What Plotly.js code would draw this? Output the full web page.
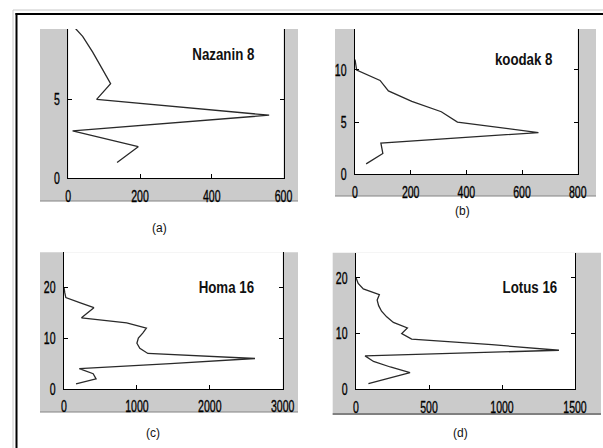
<!DOCTYPE html>
<html>
<head>
<meta charset="utf-8">
<script src="https://cdn.plot.ly/plotly-3.0.1.min.js"></script>
<style>html,body{margin:0;padding:0;background:#fff;}#chart{width:603px;height:448px;}</style>
</head>
<body>
<div id="chart"></div>
<script>
// ---- data (row index vs. value) ----
const panelNames = ["Nazanin 8", "koodak 8", "Homa 16", "Lotus 16"];
const panelLabels = ["(a)", "(b)", "(c)", "(d)"];

const nazaninRows = [1, 2, 3, 4, 5, 6, 7, 8, 9, 10];
const nazaninVals = [136, 195, 12, 560, 79, 118, 93, 68, 40, 0];

const koodakRows = [1, 2, 3, 4, 5, 6, 7, 8, 9, 10, 11];
const koodakVals = [40, 100, 93, 659, 368, 310, 204, 120, 90, 6, 0];

const homaRows = [1, 2, 3, 4, 5, 6, 7, 8, 9, 10, 11, 12, 13, 14, 15, 16, 17, 18, 19, 20];
const homaVals = [165, 440, 400, 210, 1460, 2620, 1150, 1040, 1000, 1020, 1080, 1130, 860, 240, 325, 410, 215, 25, 10, 0];

const lotusRows = [1, 2, 3, 4, 5, 6, 7, 8, 9, 10, 11, 12, 13, 14, 15, 16, 17, 18, 19, 20];
const lotusVals = [85, 220, 370, 235, 120, 62, 1390, 930, 381, 313, 352, 256, 210, 175, 155, 145, 160, 50, 15, 0];

const xTicks = [[0, 200, 400, 600], [0, 200, 400, 600, 800], [0, 1000, 2000, 3000], [0, 500, 1000, 1500]];
const yTicks = [[0, 5], [0, 5, 10], [0, 10, 20], [0, 10, 20]];
const xRanges = [[0, 600], [0, 800], [0, 3000], [0, 1500]];
const yRanges = [[0, 9.47], [0, 13.93], [0, 26.9], [0, 24.5]];

// ---- geometry (pixels) ----
const W = 603, H = 448;
const fx = p => p / W;
const fy = p => 1 - p / H;
const grayBoxes = [[40, 29, 298, 201.7], [335, 29, 596, 196.7], [40, 252.3, 298, 412.7], [332.7, 252.7, 601, 415]];
const plotBoxes = [[68.3, 29, 283.5, 178.2], [355, 29, 577.7, 174.3], [64, 252.3, 282.7, 389], [356, 252.7, 575, 389.3]];
const namePos = [[223, 55], [523, 60], [226, 287], [530, 287]];
const labelPos = [[159, 228], [462, 211], [153, 433], [460, 433]];

const rows = [nazaninRows, koodakRows, homaRows, lotusRows];
const vals = [nazaninVals, koodakVals, homaVals, lotusVals];

const FAM = "Liberation Sans, Arial, Helvetica, sans-serif";
const tickFont = {family: FAM, size: 17, color: "#000"};

const traces = [];
const layout = {
  width: W, height: H,
  margin: {l: 0, r: 0, t: 0, b: 0},
  paper_bgcolor: "#fff",
  plot_bgcolor: "rgba(0,0,0,0)",
  showlegend: false,
  shapes: [],
  annotations: []
};

for (let i = 0; i < 4; i++) {
  const s = i === 0 ? "" : String(i + 1);
  traces.push({
    type: "scatter", mode: "lines",
    x: vals[i], y: rows[i],
    xaxis: "x" + s, yaxis: "y" + s,
    line: {color: "#2a2a2a", width: 1.3},
    hoverinfo: "skip"
  });
  const pb = plotBoxes[i];
  layout["xaxis" + s] = {
    domain: [fx(pb[0]), fx(pb[2])],
    anchor: "y" + s,
    range: xRanges[i],
    tickvals: xTicks[i], ticktext: xTicks[i].map(String),
    ticks: "inside", ticklen: 4, tickcolor: "#000",
    showline: true, linecolor: "#000", linewidth: 1,
    showgrid: false, zeroline: false, mirror: false,
    tickfont: tickFont, ticklabelstandoff: 2
  };
  layout["yaxis" + s] = {
    domain: [fy(pb[3]), fy(pb[1])],
    anchor: "x" + s,
    range: yRanges[i],
    tickvals: yTicks[i], ticktext: yTicks[i].map(String),
    ticks: "inside", ticklen: 4, tickcolor: "#000",
    showline: true, linecolor: "#000", linewidth: 1,
    showgrid: false, zeroline: false, mirror: "ticks",
    tickfont: tickFont, ticklabelstandoff: 4
  };
  const gb = grayBoxes[i];
  layout.shapes.push({type: "rect", xref: "paper", yref: "paper", layer: "below",
    x0: fx(gb[0]), x1: fx(gb[2]), y0: fy(gb[3]), y1: fy(gb[1]),
    fillcolor: "#cbcbcb", line: {width: 0}});
  layout.shapes.push({type: "line", xref: "paper", yref: "paper", layer: "below",
    x0: fx(gb[0]), x1: fx(gb[2]), y0: fy(gb[3] - 1), y1: fy(gb[3] - 1),
    line: {color: i === 3 ? "#808080" : "#a8a8a8", width: i === 3 ? 2 : 1.5}});
  layout.shapes.push({type: "rect", xref: "paper", yref: "paper", layer: "below",
    x0: fx(pb[0]), x1: fx(pb[2]), y0: fy(pb[3]), y1: fy(pb[1]),
    fillcolor: "#ffffff", line: {width: 0}});
  layout.annotations.push({xref: "paper", yref: "paper",
    x: fx(namePos[i][0]), y: fy(namePos[i][1]), xanchor: "center", yanchor: "middle",
    text: panelNames[i], showarrow: false,
    font: {family: FAM, size: 16, weight: "bold", color: "#111"}});
  layout.annotations.push({xref: "paper", yref: "paper",
    x: fx(labelPos[i][0]), y: fy(labelPos[i][1]), xanchor: "center", yanchor: "middle",
    text: panelLabels[i], showarrow: false,
    font: {family: FAM, size: 12, color: "#111"}});
}

// outer frame lines
layout.shapes.push({type: "line", xref: "paper", yref: "paper", x0: fx(13), x1: fx(13), y0: fy(10), y1: 0, line: {color: "#c8c8c8", width: 1}});
layout.shapes.push({type: "line", xref: "paper", yref: "paper", x0: fx(13), x1: 1, y0: fy(10), y1: fy(10), line: {color: "#c8c8c8", width: 1}});
layout.shapes.push({type: "line", xref: "paper", yref: "paper", x0: fx(16.5), x1: fx(16.5), y0: fy(13), y1: 0, line: {color: "#000", width: 2}});
layout.shapes.push({type: "line", xref: "paper", yref: "paper", x0: fx(15.5), x1: 1, y0: fy(14), y1: fy(14), line: {color: "#000", width: 2}});

Plotly.newPlot("chart", traces, layout, {staticPlot: true, displayModeBar: false}).then(gd => {
  // condense text horizontally to mimic the narrow rendering of the original figure
  const squeeze = (el, f) => {
    const w = el.getComputedTextLength();
    if (w > 0) {
      el.setAttribute("textLength", (w * f).toFixed(2));
      el.setAttribute("lengthAdjust", "spacingAndGlyphs");
    }
  };
  gd.querySelectorAll(".xaxislayer-above text, .yaxislayer-above text").forEach(t => {
    squeeze(t, 0.62);
    t.style.stroke = "#000";
    t.style.strokeWidth = "0.35px";
  });
  gd.querySelectorAll(".annotation-text").forEach(t => {
    if (panelNames.indexOf(t.textContent) >= 0) squeeze(t, 0.83);
  });
});
</script>
</body>
</html>
